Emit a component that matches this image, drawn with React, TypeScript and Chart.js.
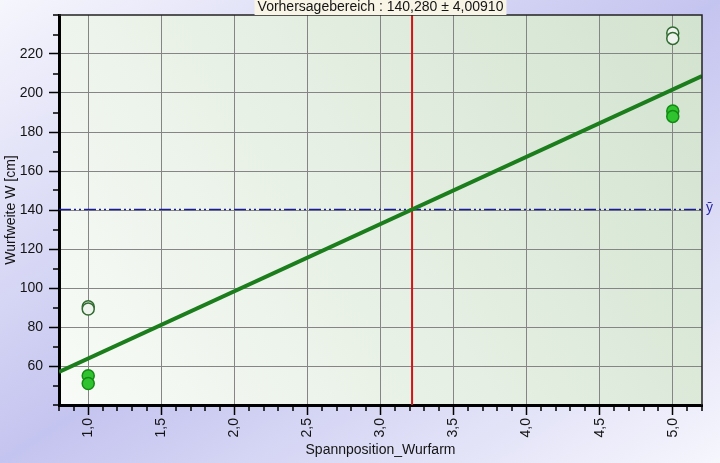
import React, { useEffect, useRef } from "react";
import { Chart, registerables } from "chart.js";

Chart.register(...registerables);

// ---- data ----
const X_MIN = 0.8;
const X_MAX = 5.2;
const Y_MIN = 40;
const Y_MAX = 240;

const xMajorTicks = [1.0, 1.5, 2.0, 2.5, 3.0, 3.5, 4.0, 4.5, 5.0];
const yMajorTicks = [60, 80, 100, 120, 140, 160, 180, 200, 220];

const fitX = [0.8, 5.2];
const fitY = [56.9, 208.7];

const obsX = [1, 1, 5, 5];
const obsY = [55, 51, 190.8, 188];

const outX = [1, 1, 5, 5];
const outY = [90.4, 89.2, 230.8, 228];

const meanY = 140.28;
const predictX = 3.216;

const titleText = "Vorhersagebereich : 140,280 \u00B1 4,00910";
const xTitle = "Spannposition_Wurfarm";
const yTitle = "Wurfweite W [cm]";
const meanLabel = "\u0233";

// minor tick positions (every 0.1 on x, every 10 on y)
const xTickValues: number[] = [];
for (let i = 0; i <= 44; i++) xTickValues.push(Math.round((X_MIN + i * 0.1) * 10) / 10);
const yTickValues: number[] = [];
for (let v = Y_MIN; v <= Y_MAX; v += 10) yTickValues.push(v);

const isMajorX = (v: number) => xMajorTicks.some((m) => Math.abs(m - v) < 1e-6);
const isMajorY = (v: number) => yMajorTicks.some((m) => Math.abs(m - v) < 1e-6);
const fmtX = (v: number) => v.toFixed(1).replace(".", ",");

const FONT = "'Liberation Sans', Arial, sans-serif";
const TEXT = "#141414";

const decor = {
  id: "decor",
  beforeDraw(chart: any) {
    const { ctx, width, height, chartArea: a } = chart;
    ctx.save();
    const g = ctx.createLinearGradient(0, 0, 421, 655);
    g.addColorStop(0, "#f6f6fd");
    g.addColorStop(0.5, "#c4c4f0");
    g.addColorStop(1, "#f6f6fd");
    ctx.fillStyle = g;
    ctx.fillRect(0, 0, width, height);
    const pg = ctx.createLinearGradient(a.left, a.bottom, a.right, a.top);
    pg.addColorStop(0, "#f8fbf7");
    pg.addColorStop(1, "#d2e3cf");
    ctx.fillStyle = pg;
    ctx.fillRect(a.left, a.top, a.right - a.left, a.bottom - a.top);
    ctx.restore();
  },
  afterDraw(chart: any) {
    const { ctx, chartArea: a } = chart;
    const xs = chart.scales.x;
    const ys = chart.scales.y;
    ctx.save();
    // minor ticks
    ctx.strokeStyle = "#000";
    ctx.lineWidth = 1.5;
    ctx.beginPath();
    xs.ticks.forEach((t: any) => {
      if (isMajorX(t.value)) return;
      const px = Math.round(xs.getPixelForValue(t.value));
      ctx.moveTo(px, a.bottom);
      ctx.lineTo(px, a.bottom + 6);
    });
    ys.ticks.forEach((t: any) => {
      if (isMajorY(t.value)) return;
      const py = Math.round(ys.getPixelForValue(t.value));
      ctx.moveTo(a.left, py);
      ctx.lineTo(a.left - 6, py);
    });
    ctx.stroke();
    // top / right frame
    ctx.strokeStyle = "#222";
    ctx.lineWidth = 1.5;
    ctx.beginPath();
    ctx.moveTo(a.left, a.top);
    ctx.lineTo(a.right, a.top);
    ctx.lineTo(a.right, a.bottom);
    ctx.stroke();
    // title box
    ctx.font = "14px " + FONT;
    const cx = (a.left + a.right) / 2;
    const tw = ctx.measureText(titleText).width;
    ctx.fillStyle = "#f8f5e6";
    ctx.fillRect(cx - tw / 2 - 3, 0, tw + 6, 15);
    ctx.fillStyle = TEXT;
    ctx.textAlign = "center";
    ctx.textBaseline = "middle";
    ctx.fillText(titleText, cx, 7);
    // mean label
    ctx.fillStyle = "#2a2aa8";
    ctx.textAlign = "left";
    ctx.fillText(meanLabel, a.right + 4, ys.getPixelForValue(meanY) - 1);
    ctx.restore();
  },
};

export default function App() {
  const ref = useRef<HTMLCanvasElement | null>(null);
  useEffect(() => {
    document.body.style.margin = "0";
    if (!ref.current) return;
    Chart.defaults.font.family = FONT;
    const chart = new Chart(ref.current, {
      type: "scatter",
      data: {
        datasets: [
          {
            label: "Messwerte",
            data: obsX.map((x, i) => ({ x, y: obsY[i] })),
            pointRadius: 6,
            pointBackgroundColor: "#2fc42f",
            pointBorderColor: "#138a13",
            pointBorderWidth: 1.5,
            order: 1,
          },
          {
            label: "Ausreisser",
            data: outX.map((x, i) => ({ x, y: outY[i] })),
            pointRadius: 6,
            pointBackgroundColor: "#eef3ee",
            pointBorderColor: "#2f6a2f",
            pointBorderWidth: 1.5,
            order: 1,
          },
          {
            label: "Regression",
            data: fitX.map((x, i) => ({ x, y: fitY[i] })),
            showLine: true,
            borderColor: "#1b7d1b",
            borderWidth: 4,
            pointRadius: 0,
            order: 2,
          },
          {
            label: "Vorhersage",
            data: [
              { x: predictX, y: Y_MIN },
              { x: predictX, y: Y_MAX },
            ],
            showLine: true,
            borderColor: "#d41414",
            borderWidth: 2,
            pointRadius: 0,
            order: 3,
          },
          {
            label: "Mittelwert",
            data: [
              { x: X_MIN, y: meanY },
              { x: X_MAX, y: meanY },
            ],
            showLine: true,
            borderColor: "#1c1c96",
            borderWidth: 1.5,
            borderDash: [12, 3, 2, 3, 2, 3],
            pointRadius: 0,
            order: 4,
          },
        ],
      },
      options: {
        responsive: false,
        animation: false,
        events: [],
        layout: { padding: { top: 15, right: 18, left: 0, bottom: 0 } },
        plugins: { legend: { display: false }, tooltip: { enabled: false } },
        scales: {
          x: {
            type: "linear",
            min: X_MIN,
            max: X_MAX,
            afterBuildTicks: (s: any) => {
              s.ticks = xTickValues.map((v) => ({ value: v }));
            },
            afterFit: (s: any) => {
              s.height = 58;
              s.paddingLeft = 0;
              s.paddingRight = 0;
            },
            ticks: {
              autoSkip: false,
              minRotation: 90,
              maxRotation: 90,
              padding: 3,
              color: TEXT,
              font: { size: 14, family: FONT },
              callback: (v: any) => (isMajorX(Number(v)) ? fmtX(Number(v)) : ""),
            },
            grid: {
              color: (c: any) => (c.tick && isMajorX(c.tick.value) ? "#858585" : "rgba(0,0,0,0)"),
              tickColor: (c: any) => (c.tick && isMajorX(c.tick.value) ? "#000" : "rgba(0,0,0,0)"),
              tickLength: 10,
              tickWidth: 1.5,
              lineWidth: 1,
            },
            border: { color: "#000", width: 3 },
            title: {
              display: true,
              text: xTitle,
              color: TEXT,
              font: { size: 14, family: FONT },
              padding: { top: 0, bottom: 4 },
            },
          },
          y: {
            type: "linear",
            min: Y_MIN,
            max: Y_MAX,
            afterBuildTicks: (s: any) => {
              s.ticks = yTickValues.map((v) => ({ value: v }));
            },
            afterFit: (s: any) => {
              s.width = 59;
              s.paddingTop = 0;
              s.paddingBottom = 0;
            },
            ticks: {
              autoSkip: false,
              padding: 6,
              color: TEXT,
              font: { size: 14, family: FONT },
              callback: (v: any) => (isMajorY(Number(v)) ? String(v) : ""),
            },
            grid: {
              color: (c: any) => (c.tick && isMajorY(c.tick.value) ? "#858585" : "rgba(0,0,0,0)"),
              tickColor: (c: any) => (c.tick && isMajorY(c.tick.value) ? "#000" : "rgba(0,0,0,0)"),
              tickLength: 10,
              tickWidth: 1.5,
              lineWidth: 1,
            },
            border: { color: "#000", width: 3 },
            title: {
              display: true,
              text: yTitle,
              color: TEXT,
              font: { size: 14, family: FONT },
              padding: { top: 3, bottom: 0 },
            },
          },
        },
      },
      plugins: [decor],
    } as any);
    return () => chart.destroy();
  }, []);
  return (
    <div style={{ position: "absolute", left: 0, top: 0, width: 720, height: 463 }}>
      <canvas ref={ref} width={720} height={463} style={{ display: "block" }} />
    </div>
  );
}
